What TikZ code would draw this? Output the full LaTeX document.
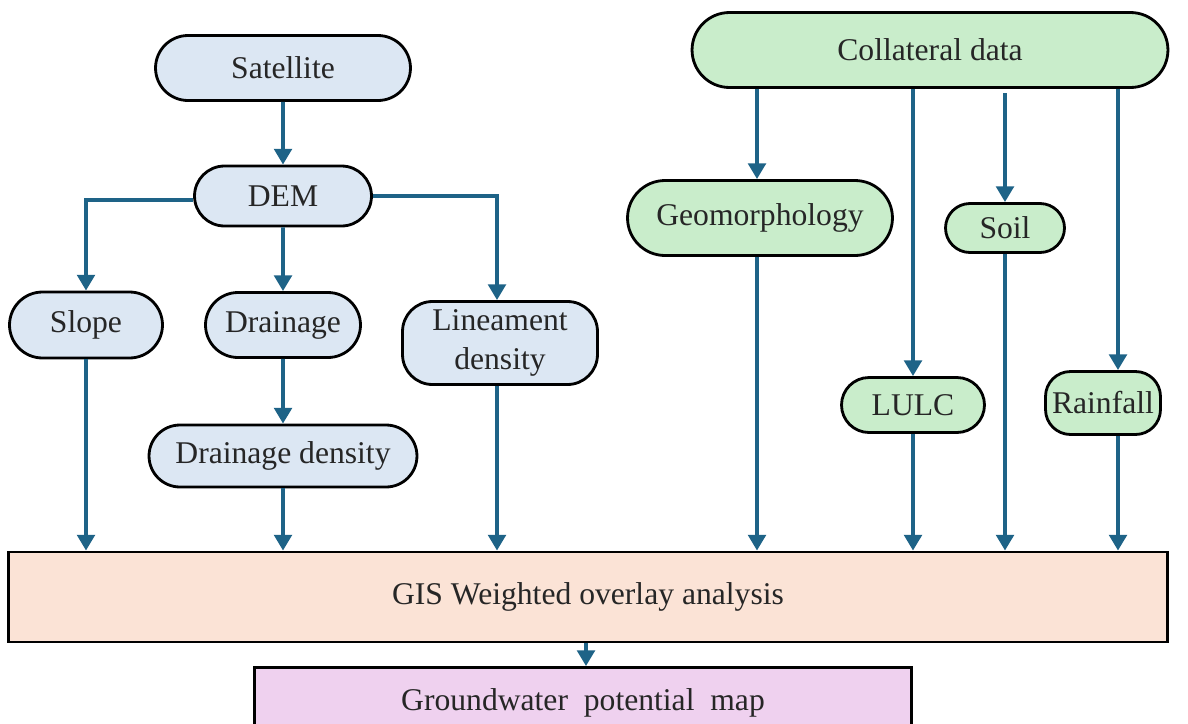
\documentclass[tikz,border=0pt]{standalone}
\usepackage{fontspec}
\setmainfont{Liberation Serif}
\usetikzlibrary{arrows.meta}
\usetikzlibrary{positioning}
\usetikzlibrary{shapes.misc}

\definecolor{skyfill}{HTML}{DCE7F3}
\definecolor{leaffill}{HTML}{C9EDCB}
\definecolor{peachfill}{HTML}{FBE3D6}
\definecolor{pinkfill}{HTML}{EFD1EF}
\definecolor{flowblue}{HTML}{1E6387}

\begin{document}
\begin{tikzpicture}
	[x=0.02cm,y=-0.02cm,
	every node/.style={draw=black,line width=1.6pt,inner sep=0pt,text=black!85,
		font=\fontsize{18}{21}\selectfont,align=center},
	pill/.style={rounded rectangle},
	flow/.style={draw=flowblue,line width=2.2pt,-{Triangle[width=10pt,length=9pt]}}]
	\useasboundingbox (0,0) rectangle (1188,724);

	% left branch
	\node[pill,fill=skyfill,minimum width=5.1cm,minimum height=1.3cm] (sat) at (283,68) {Satellite};
	\node[pill,fill=skyfill,minimum width=3.54cm,minimum height=1.2cm] (dem) at (283,196) {DEM};
	\node[pill,fill=skyfill,minimum width=3.06cm,minimum height=1.32cm] (slope) at (86,325) {Slope};
	\node[pill,fill=skyfill,minimum width=3.1cm,minimum height=1.3cm] (drain) at (283,325) {Drainage};
	\node[rectangle,rounded corners=0.6cm,fill=skyfill,minimum width=3.9cm,minimum height=1.66cm] (linea) at (500,343) {Lineament\\[1pt]density};
	\node[pill,fill=skyfill,minimum width=5.36cm,minimum height=1.24cm] (ddens) at (283,456) {Drainage density};

	% right branch
	\node[pill,fill=leaffill,minimum width=9.52cm,minimum height=1.5cm] (coll) at (930,50) {Collateral data};
	\node[pill,fill=leaffill,minimum width=5.3cm,minimum height=1.5cm] (geo) at (760,218) {Geomorphology};
	\node[pill,fill=leaffill,minimum width=2.38cm,minimum height=0.98cm] (soil) at (1005,228) {Soil};
	\node[pill,fill=leaffill,minimum width=2.86cm,minimum height=1.1cm] (lulc) at (913,405) {LULC};
	\node[rectangle,rounded corners=0.5cm,fill=leaffill,minimum width=2.3cm,minimum height=1.26cm] (rain) at (1103,403) {Rainfall};

	% bottom
	\node[fill=peachfill,minimum width=23.2cm,minimum height=1.8cm] (gis) at (588,597) {GIS Weighted overlay analysis};
	\node[fill=pinkfill,minimum width=13.14cm,minimum height=1.3cm,text depth=0pt] (gwp) at (583,700) {Groundwater\ \ potential\ \ map};

	\draw[flow] (sat) -- (dem);
	\draw[flow] (dem.west |- 0,200) -| (slope);
	\draw[flow] (dem) -- (drain);
	\draw[flow] (dem.east |- 0,196) -| (linea.north -| 497,0);
	\draw[flow] (drain) -- (ddens);

	\foreach \src/\xx in {slope/86, ddens/283, linea/497}
	\draw[flow] (\src.south -| \xx,0) -- (gis.north -| \xx,0);

	\draw[flow] (coll.south -| 757,0) -- (geo.north -| 757,0);
	\draw[flow] (coll.south -| 913,0) -- (lulc.north -| 913,0);
	\draw[flow] (1005,93) -- (soil.north -| 1005,0);
	\draw[flow] (coll.south -| 1118,0) -- (rain.north -| 1118,0);

	\foreach \src/\xx in {geo/757, lulc/913, soil/1005, rain/1118}
	\draw[flow] (\src.south -| \xx,0) -- (gis.north -| \xx,0);

	\draw[flow] (gis.south -| 586,0) -- (gwp.north -| 586,0);
\end{tikzpicture}
\end{document}
